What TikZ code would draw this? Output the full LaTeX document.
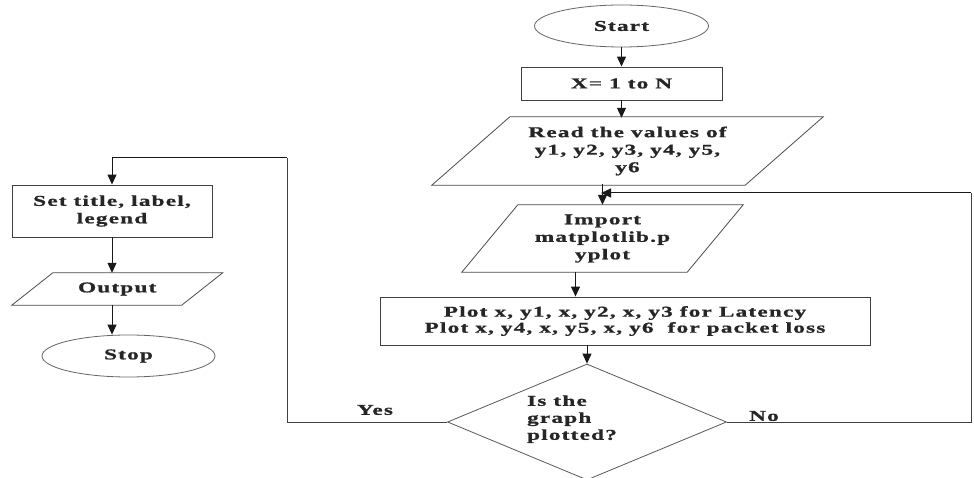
\documentclass[tikz,border=0pt]{standalone}
\usepackage{fontspec}
\setmainfont{Liberation Serif}[FakeStretch=1.55,LetterSpace=8,BoldFeatures={FakeBold=1}]
\usetikzlibrary{arrows.meta,shapes.geometric}
\tikzset{
  every node/.style={font=\bfseries\fontsize{15}{17.5}\selectfont, text=black!85},
  box/.style={draw=black!75, line width=0.9pt, inner sep=0pt, align=center},
  oval/.style={ellipse, draw=black!60, line width=0.8pt, inner sep=0pt},
  io/.style={inner sep=0pt, align=center},
  iofrm/.style={draw=black!70, line width=0.8pt},
  decis/.style={diamond, draw=black!65, line width=0.8pt, inner sep=0pt},
  arr/.style={-{Triangle[length=10pt,width=9pt]}, line width=1pt, draw=black!90},
  link/.style={line width=1pt, draw=black!75},
}
\begin{document}
\begin{tikzpicture}[x=1pt,y=-1pt]
\useasboundingbox[fill=white] (0,0) rectangle (974,478);
% main column
\node[oval, minimum width=174pt, minimum height=42pt] (start) at (621.5,26) {Start};
\node[box, minimum width=201pt, minimum height=33pt] (xbox) at (621.5,83.5) {X= 1 to N};
\node[io, minimum width=313pt, minimum height=66pt] (read) at (627.5,151) {Read the values of\\y1, y2, y3, y4, y5,\\y6};
\draw[iofrm] ([xshift=-39pt,yshift=-1pt]read.south west) -- ([xshift=39pt,yshift=1pt]read.north west) -- ([xshift=39pt,yshift=1pt]read.north east) -- ([xshift=-39pt,yshift=-1pt]read.south east) -- cycle;
\node[io, minimum width=225pt, minimum height=67pt] (import) at (602.5,238.5) {Import\\matplotlib.p\\yplot};
\draw[iofrm] ([xshift=-28pt]import.south west) -- ([xshift=28pt]import.north west) -- ([xshift=28pt]import.north east) -- ([xshift=-28pt]import.south east) -- cycle;
\node[box, minimum width=490pt, minimum height=48pt, font=\bfseries\fontsize{15}{16}\selectfont] (plot) at (625,321) {Plot x, y1, x, y2, x, y3 for Latency\\Plot x, y4, x, y5, x, y6\ \ for packet loss};
\node[decis, minimum width=279pt, minimum height=116pt, font=\bfseries\fontsize{15}{17}\selectfont] (dec) at (587,422) {\makebox[0pt]{\raisebox{-1pt}[0pt][0pt]{\begin{tabular}{@{}l@{}}Is the\\graph\\plotted?\end{tabular}}\hspace*{30pt}}};
% left column
\node[box, minimum width=200pt, minimum height=52pt] (set) at (112,211) {Set title, label,\\legend};
\node[io, minimum width=169.5pt, minimum height=32pt] (out) at (117.25,289) {Output};
\draw[iofrm] ([xshift=-20.5pt]out.south west) -- ([xshift=20.5pt]out.north west) -- ([xshift=20.5pt]out.north east) -- ([xshift=-20.5pt]out.south east) -- cycle;
\node[oval, minimum width=173pt, minimum height=42pt] (stop) at (128.5,356) {Stop};
% labels
\node (yes) at (375,410) {Yes};
\node (no) at (764,416) {No};
% connectors
\draw[arr] (start.south) -- (xbox.north);
\draw[arr] (xbox.south) -- (xbox.south |- read.north);
\draw[arr] (read.south -| import.north) -- (import.north);
\coordinate (ia) at ([xshift=-27pt]import.south);
\draw[arr] (ia) -- (ia |- plot.north);
\draw[arr] (plot.south -| dec.north) -- (dec.north);
\coordinate (yc) at (287,158);
\draw[link] (dec.west) -| (yc);
\draw[arr] (yc) -| (set.north);
\coordinate (nc) at (971,193);
\coordinate (m) at (601,193);
\draw[link] (dec.east) -| (nc);
\draw[arr] (nc) -- (m);
\draw[arr] (set.south) -- (set.south |- out.north);
\coordinate (oc) at (out.south -| set.south);
\draw[arr] (oc) -- (oc |- stop.north);
\end{tikzpicture}
\end{document}
